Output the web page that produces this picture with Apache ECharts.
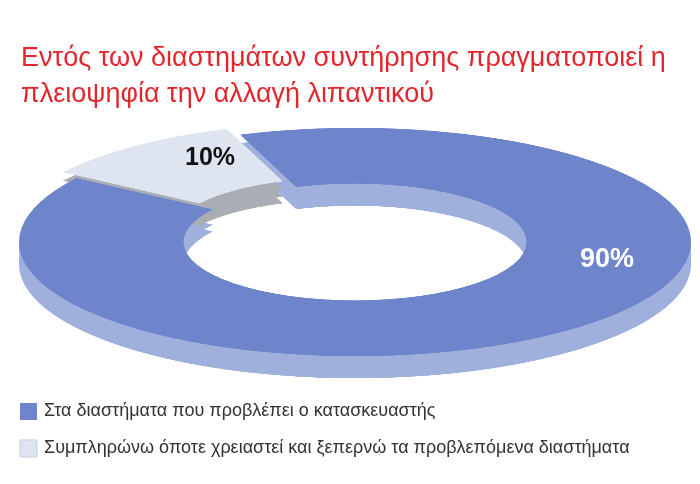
<!DOCTYPE html>
<html>
<head>
<meta charset="utf-8">
<script src="https://cdn.jsdelivr.net/npm/echarts@6/dist/echarts.min.js"></script>
<style>
  body { margin: 0; background: #fff; }
  #wrap { position: relative; width: 700px; height: 484px; overflow: hidden; }
  #pie { position: absolute; left: 0; top: 0; width: 700px; height: 800px;
         transform-origin: 0 0; transform: translate(0, 123px) scaleY(0.34); }
  #main { position: absolute; left: 0; top: 0; width: 700px; height: 484px; }
</style>
</head>
<body>
<div id="wrap">
  <div id="pie"></div>
  <div id="main"></div>
</div>
<script>
// data
var names = ['Στα διαστήματα που προβλέπει ο κατασκευαστής',
             'Συμπληρώνω όποτε χρειαστεί και ξεπερνώ τα προβλεπόμενα διαστήματα'];
var values = [90, 10];
var topColors = ['#6e85cb', '#dfe5f0'];
var sideColors = ['#9fb0dc', '#a9adb4'];

var pieChart = echarts.init(document.getElementById('pie'));
function ring(cy, colors, z) {
    return {
        type: 'pie',
        radius: ['49%', '96%'],
        center: [355, cy],
        startAngle: 110,
        z: z,
        silent: true,
        animation: false,
        selectedMode: 'single',
        selectedOffset: 22,
        label: { show: false },
        labelLine: { show: false },
        data: values.map(function (v, i) {
            return { value: v, name: names[i], selected: i === 1,
                     itemStyle: { color: colors[i] } };
        })
    };
}
pieChart.setOption({
    series: [
        ring(415, sideColors, 1),
        ring(395, sideColors, 1),
        ring(375, sideColors, 1),
        ring(350, topColors, 2)
    ]
});

var chart = echarts.init(document.getElementById('main'));
var font = '"Liberation Sans", Arial, sans-serif';
var graphics = [
    { type: 'text', left: 185, top: 146,
      style: { text: values[1] + '%', fill: '#111', font: 'bold 25px ' + font } },
    { type: 'text', left: 580, top: 246,
      style: { text: values[0] + '%', fill: '#fff', font: 'bold 27px ' + font } }
];
names.forEach(function (n, i) {
    var y = 403 + i * 37;
    graphics.push({ type: 'rect', shape: { x: 20, y: y, width: 17, height: 17 },
                    style: { fill: topColors[i], stroke: i ? '#c5cde0' : null } });
    graphics.push({ type: 'text', left: 44, top: y - 1,
                    style: { text: n, fill: '#333', font: '18px ' + font } });
});
chart.setOption({
    title: {
        text: 'Εντός των διαστημάτων συντήρησης πραγματοποιεί η\nπλειοψηφία την αλλαγή λιπαντικού',
        left: 16, top: 36,
        textStyle: { color: '#e3262e', fontSize: 27, fontWeight: 'normal',
                     fontFamily: font, lineHeight: 36 }
    },
    graphic: graphics
});
</script>
</body>
</html>
